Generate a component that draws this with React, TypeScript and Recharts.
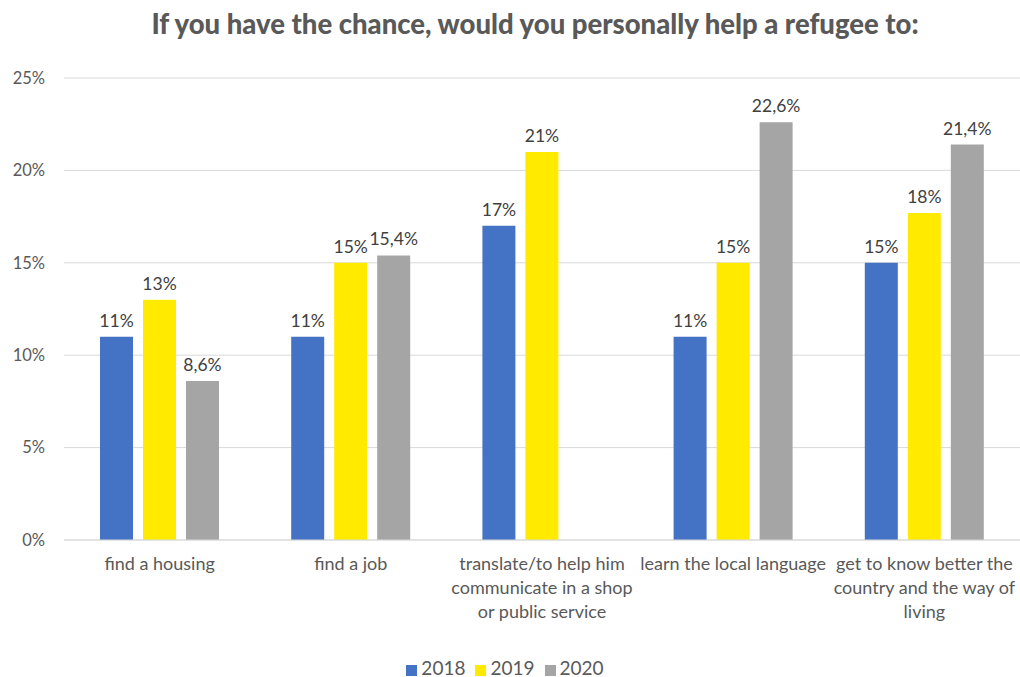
import React from "react";
import { BarChart, Bar, XAxis, YAxis, CartesianGrid, Legend, LabelList } from "recharts";

const categories = [
  "find a housing",
  "find a job",
  "translate/to help him\ncommunicate in a shop\nor public service",
  "learn the local language",
  "get to know better the\ncountry and the way of\nliving",
];
const values2018 = [11, 11, 17, 11, 15];
const values2019 = [13, 15, 21, 15, 17.7];
const values2020: (number | null)[] = [8.6, 15.4, null, 22.6, 21.4];
const labels2018 = ["11%", "11%", "17%", "11%", "15%"];
const labels2019 = ["13%", "15%", "21%", "15%", "18%"];
const labels2020 = ["8,6%", "15,4%", "", "22,6%", "21,4%"];
const yTicks = [0, 5, 10, 15, 20, 25];

const data = categories.map((c, i) => ({
  name: c,
  y2018: values2018[i],
  y2019: values2019[i],
  y2020: values2020[i],
  l2018: labels2018[i],
  l2019: labels2019[i],
  l2020: labels2020[i],
}));

const FONT = "Lato, 'Open Sans', sans-serif";

const CatTick = (props: any) => {
  const { x, y, payload } = props;
  const lines = String(payload.value).split("\n");
  return (
    <text x={x} y={y} textAnchor="middle" fill="#595959" fontSize={18} fontFamily={FONT}>
      {lines.map((l: string, i: number) => (
        <tspan key={i} x={x} dy={i === 0 ? 22 : 24}>
          {l}
        </tspan>
      ))}
    </text>
  );
};

export default function App() {
  return (
    <div style={{ position: "absolute", left: 0, top: 0, width: 1020, height: 677, background: "#fff" }}>
      <div
        style={{
          position: "absolute",
          left: 0,
          top: 7,
          width: 1070,
          textAlign: "center",
          fontFamily: FONT,
          fontWeight: 900,
          fontSize: 27.5,
          color: "#595959",
        }}
      >
        If you have the chance, would you personally help a refugee to:
      </div>
      <div style={{ position: "absolute", left: 0, top: 0 }}>
        <BarChart
          width={1020}
          height={677}
          data={data}
          margin={{ top: 78, right: 0, left: 0, bottom: 84 }}
          barSize={33}
          barGap={10}
        >
          <CartesianGrid vertical={false} stroke="#D9D9D9" />
          <XAxis
            dataKey="name"
            axisLine={{ stroke: "#D9D9D9" }}
            tickLine={false}
            interval={0}
            tick={<CatTick />}
          />
          <YAxis
            width={64}
            domain={[0, 25]}
            ticks={yTicks}
            axisLine={false}
            tickLine={false}
            tickMargin={13}
            tickFormatter={(v: number) => `${v}%`}
            tick={{ fill: "#595959", fontSize: 16.5, fontFamily: FONT }}
          />
          <Legend
            verticalAlign="bottom"
            iconType="square"
            iconSize={11}
            wrapperStyle={{ fontFamily: FONT, fontSize: 19, top: 656, bottom: "auto" }}
            formatter={(v: string) => <span style={{ color: "#595959" }}>{v}</span>}
          />
          <Bar dataKey="y2018" name="2018" fill="#4472C4" isAnimationActive={false}>
            <LabelList dataKey="l2018" position="top" offset={10} fill="#404040" fontSize={17.5} fontFamily={FONT} />
          </Bar>
          <Bar dataKey="y2019" name="2019" fill="#FFEA00" isAnimationActive={false}>
            <LabelList dataKey="l2019" position="top" offset={10} fill="#404040" fontSize={17.5} fontFamily={FONT} />
          </Bar>
          <Bar dataKey="y2020" name="2020" fill="#A5A5A5" isAnimationActive={false}>
            <LabelList dataKey="l2020" position="top" offset={10} fill="#404040" fontSize={17.5} fontFamily={FONT} />
          </Bar>
        </BarChart>
      </div>
    </div>
  );
}
